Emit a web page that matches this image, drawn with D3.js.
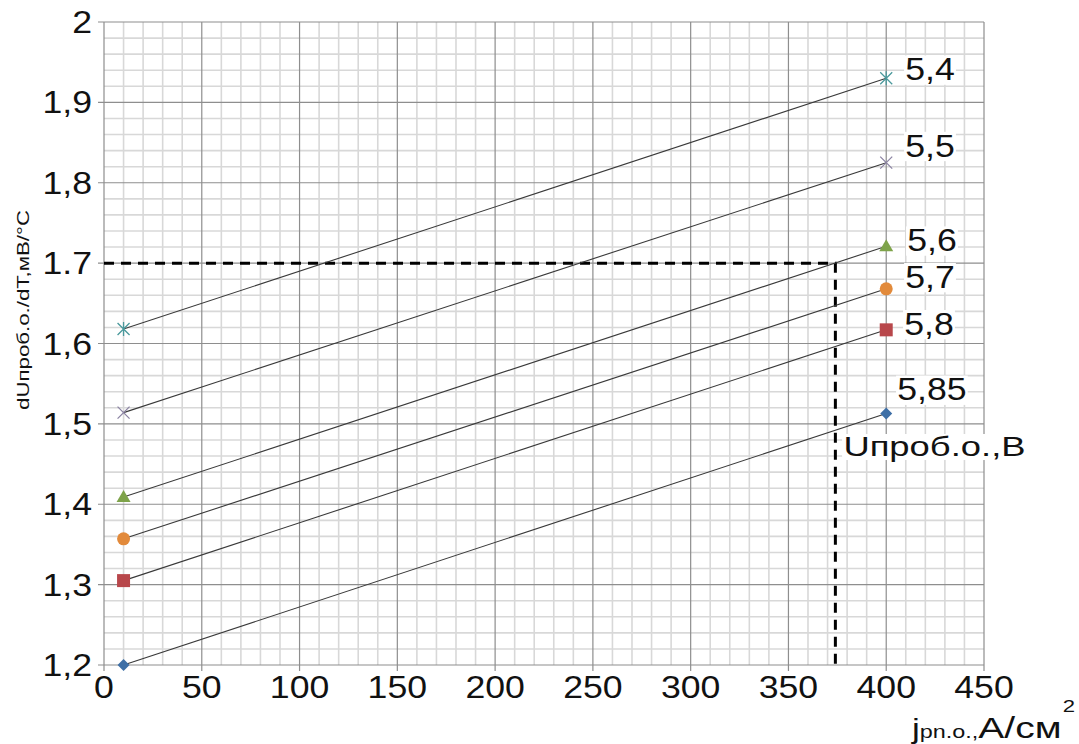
<!DOCTYPE html>
<html>
<head>
<meta charset="utf-8">
<script src="https://cdn.jsdelivr.net/npm/d3@7"></script>
<style>
  body { margin: 0; background: #fff; }
  svg { display: block; font-family: "Liberation Sans", Arial, sans-serif; }
</style>
</head>
<body>
<svg id="chart" width="1079" height="744"></svg>
<script>
// current density, A/cm2
const currents = [10, 400];
// breakdown voltage of each line, V
const seriesNames = ["5,4", "5,5", "5,6", "5,7", "5,8", "5,85"];
const series54 = [1.618, 1.930];
const series55 = [1.514, 1.825];
const series56 = [1.409, 1.721];
const series57 = [1.357, 1.668];
const series58 = [1.305, 1.617];
const series585 = [1.200, 1.513];
const yTickValues = [1.2, 1.3, 1.4, 1.5, 1.6, 1.7, 1.8, 1.9, 2];
const yTickLabels = ["1,2", "1,3", "1,4", "1,5", "1,6", "1.7", "1,8", "1,9", "2"];
const xTickValues = [0, 50, 100, 150, 200, 250, 300, 350, 400, 450];
// reading line for 1.7 mV/°C
const readLevel = 1.7;
const readCurrent = 374;

const allSeries = [series54, series55, series56, series57, series58, series585];

const colors = {
  minorGrid: "#d8d8d8",
  majorGrid: "#8e8e8e",
  line: "#3a3a3a",
  text: "#111",
  markers: ["#4a999c", "#8c84a3", "#7ea34a", "#e28a3b", "#b8474b", "#3e6fa6"],
};

// the source picture is stretched sideways, so text is widened a bit
const stretch = 1.15;

const svg = d3.select("#chart");
const x = d3.scaleLinear().domain([0, 450]).range([104, 984]);
const y = d3.scaleLinear().domain([1.2, 2]).range([665, 22]);

// grid
const grid = svg.append("g");
grid.selectAll("line.vminor")
  .data(d3.range(0, 451, 10).filter((v) => v % 50 !== 0))
  .join("line")
  .attr("x1", (d) => x(d)).attr("x2", (d) => x(d))
  .attr("y1", y(2)).attr("y2", y(1.2))
  .attr("stroke", colors.minorGrid).attr("stroke-width", 1.6);
grid.selectAll("line.hminor")
  .data(d3.range(0, 41).map((i) => 1.2 + i * 0.02).filter((v, i) => i % 5 !== 0))
  .join("line")
  .attr("x1", x(0)).attr("x2", x(450))
  .attr("y1", (d) => y(d)).attr("y2", (d) => y(d))
  .attr("stroke", colors.minorGrid).attr("stroke-width", 1.6);
grid.selectAll("line.vmajor")
  .data(xTickValues)
  .join("line")
  .attr("x1", (d) => x(d)).attr("x2", (d) => x(d))
  .attr("y1", y(2)).attr("y2", y(1.2) + 6)
  .attr("stroke", colors.majorGrid).attr("stroke-width", 1.2);
grid.selectAll("line.hmajor")
  .data(yTickValues)
  .join("line")
  .attr("x1", x(0) - 6).attr("x2", x(450))
  .attr("y1", (d) => y(d)).attr("y2", (d) => y(d))
  .attr("stroke", colors.majorGrid).attr("stroke-width", 1.2);

// tick labels
svg.append("g").selectAll("text")
  .data(yTickValues)
  .join("text")
  .attr("transform", (d) => `translate(92,${y(d) + 11}) scale(${stretch},1)`)
  .attr("text-anchor", "end")
  .attr("font-size", 31)
  .attr("fill", colors.text)
  .text((d, i) => yTickLabels[i]);
svg.append("g").selectAll("text")
  .data(xTickValues)
  .join("text")
  .attr("transform", (d) => `translate(${x(d)},698) scale(${stretch},1)`)
  .attr("text-anchor", "middle")
  .attr("font-size", 31)
  .attr("fill", colors.text)
  .text((d) => d);

// dashed reading line
svg.append("path")
  .attr("d", d3.line()([[x(0), y(readLevel)], [x(readCurrent), y(readLevel)], [x(readCurrent), y(1.2)]]))
  .attr("fill", "none")
  .attr("stroke", "#000")
  .attr("stroke-width", 3)
  .attr("stroke-dasharray", "10,7");

// series lines
const line = d3.line().x((d) => x(d[0])).y((d) => y(d[1]));
svg.append("g").selectAll("path")
  .data(allSeries)
  .join("path")
  .attr("d", (d) => line(d.map((v, i) => [currents[i], v])))
  .attr("fill", "none")
  .attr("stroke", colors.line)
  .attr("stroke-width", 1.1);

// marker shapes (asterisk, cross, triangle, circle, square, diamond)
function markerPath(kind) {
  const p = d3.path();
  if (kind === 0) {
    p.moveTo(-6, -6); p.lineTo(6, 6);
    p.moveTo(-6, 6); p.lineTo(6, -6);
    p.moveTo(0, -7); p.lineTo(0, 7);
  } else if (kind === 1) {
    p.moveTo(-6, -6); p.lineTo(6, 6);
    p.moveTo(-6, 6); p.lineTo(6, -6);
  } else if (kind === 2) {
    p.moveTo(0, -7); p.lineTo(7, 5); p.lineTo(-7, 5); p.closePath();
  } else if (kind === 3) {
    p.arc(0, 0, 6.5, 0, 2 * Math.PI);
  } else if (kind === 4) {
    p.rect(-6.5, -6.5, 13, 13);
  } else {
    p.moveTo(0, -6); p.lineTo(6, 0); p.lineTo(0, 6); p.lineTo(-6, 0); p.closePath();
  }
  return p.toString();
}

const markers = svg.append("g");
allSeries.forEach((s, k) => {
  markers.selectAll(null)
    .data(s)
    .join("path")
    .attr("transform", (d, i) => `translate(${x(currents[i])},${y(d)})`)
    .attr("d", markerPath(k))
    .attr("fill", k < 2 ? "none" : colors.markers[k])
    .attr("stroke", colors.markers[k])
    .attr("stroke-width", k < 2 ? 1.3 : 0);
});

// series labels next to the last point, on a white box
const labelShift = [[19, 2], [19, -6], [21, 5], [19, -1], [18, 5], [11, -13]];
const labels = svg.append("g");
function boxedText(tx, ty, str, size, sx) {
  const g = labels.append("g")
    .attr("transform", `translate(${tx},${ty}) scale(${sx},1)`);
  const t = g.append("text")
    .attr("font-size", size)
    .attr("fill", colors.text)
    .text(str);
  const b = t.node().getBBox();
  g.insert("rect", "text")
    .attr("x", b.x - 1).attr("y", b.y + 3)
    .attr("width", b.width + 2).attr("height", b.height - 5)
    .attr("fill", "#fff");
}
allSeries.forEach((s, k) => {
  const last = s.length - 1;
  boxedText(x(currents[last]) + labelShift[k][0], y(s[last]) + labelShift[k][1],
    seriesNames[k], 31, stretch);
});
boxedText(x(readCurrent) + 8, 456, "Uпроб.о.,В", 28, 1.3);

// axis titles
svg.append("text")
  .attr("transform", "translate(29,310) rotate(-90)")
  .attr("text-anchor", "middle")
  .attr("font-size", 17)
  .attr("textLength", 200)
  .attr("lengthAdjust", "spacingAndGlyphs")
  .attr("fill", colors.text)
  .text("dUпроб.о./dT,мВ/°C");

const xt = svg.append("text")
  .attr("transform", "translate(912,738) scale(1.3,1)")
  .attr("fill", colors.text);
xt.append("tspan").attr("font-size", 27).text("j");
xt.append("tspan").attr("font-size", 18).text("pn.o.,");
xt.append("tspan").attr("font-size", 30).text("A/cм");
xt.append("tspan").attr("font-size", 17).attr("dy", -26).attr("dx", 1).text("2");
</script>
</body>
</html>
